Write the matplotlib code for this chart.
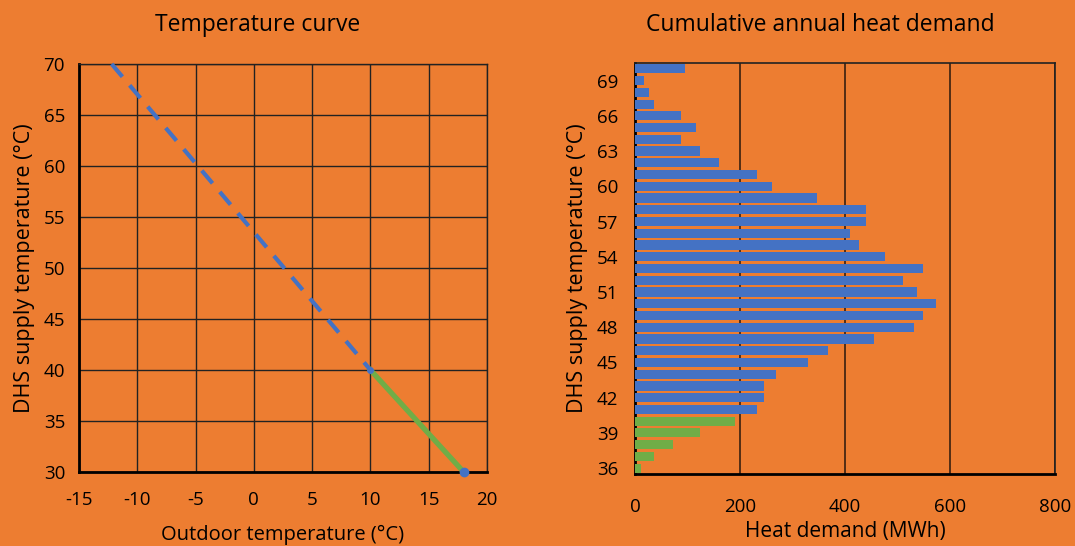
import matplotlib.pyplot as plt

plt.rcParams['font.family'] = ['Open Sans', 'DejaVu Sans']
plt.rcParams['axes.unicode_minus'] = False

ORANGE = '#ED7D31'
BLUE = '#4472C4'
GREEN = '#70AD47'

# temperature curve
curve_x_blue = [-12.2, 10]
curve_y_blue = [70, 40]
curve_x_green = [10, 18]
curve_y_green = [40, 30]

# cumulative heat demand per supply temperature
supply_temp = list(range(36, 71))
demand = [11, 36, 72, 123, 191,
          232, 246, 246, 269, 330, 368, 456, 531, 549, 574,
          538, 510, 549, 477, 427, 410, 440, 440, 346, 260,
          233, 160, 123, 88, 117, 88, 37, 27, 17, 95]
green_limit = 40

fig = plt.figure(figsize=(10.75, 5.46), dpi=100)
fig.patch.set_facecolor(ORANGE)
W, H = 1075, 546

def add_ax(x0, y0, x1, y1):
    a = fig.add_axes([x0 / W, 1 - y1 / H, (x1 - x0) / W, (y1 - y0) / H])
    a.set_facecolor(ORANGE)
    return a

# left chart
ax1 = add_ax(79, 64, 487, 472)
ax1.set_xlim(-15, 20)
ax1.set_ylim(30, 70)
ax1.set_xticks(range(-15, 21, 5))
ax1.set_yticks(range(30, 71, 5))
ax1.grid(True, color='#222222', linewidth=1.0)
ax1.set_axisbelow(True)
for s in ['top', 'right']:
    ax1.spines[s].set_linewidth(1.0)
    ax1.spines[s].set_color('#222222')
for s in ['left', 'bottom']:
    ax1.spines[s].set_linewidth(2.0)
ax1.tick_params(length=0, labelsize=13.5)
ax1.tick_params(axis='x', pad=14)
ax1.tick_params(axis='y', pad=10)
ax1.plot(curve_x_blue, curve_y_blue, color=BLUE, linewidth=3,
         dashes=(4, 2.7), clip_on=False, zorder=3)
ax1.plot(curve_x_green, curve_y_green, color=GREEN, linewidth=3.8,
         zorder=4, clip_on=False)
ax1.plot([10], [40], 'o', color=BLUE, markersize=4, zorder=5)
ax1.plot([18], [30], 'o', color=BLUE, markersize=6, zorder=5, clip_on=False)
ax1.set_xlabel('Outdoor temperature (°C)', fontsize=14.5, labelpad=11)
ax1.set_ylabel('DHS supply temperature (°C)', fontsize=15.5, labelpad=6)

# right chart
ax2 = add_ax(635, 63, 1055, 474)
colors = [GREEN if t <= green_limit else BLUE for t in supply_temp]
ax2.barh(supply_temp, demand, height=0.78, color=colors, zorder=3)
ax2.set_xlim(0, 800)
ax2.set_ylim(35.5, 70.5)
ax2.set_xticks(range(0, 801, 200))
ax2.set_yticks(range(36, 71, 3))
ax2.grid(True, axis='x', color='#3a2010', linewidth=1.2)
ax2.set_axisbelow(True)
for s in ['top', 'right']:
    ax2.spines[s].set_linewidth(1.2)
    ax2.spines[s].set_color('#222222')
for s in ['left', 'bottom']:
    ax2.spines[s].set_linewidth(2.0)
ax2.tick_params(length=0, labelsize=13.5)
ax2.tick_params(axis='x', pad=17)
ax2.tick_params(axis='y', pad=12)
ax2.set_xlabel('Heat demand (MWh)', fontsize=15, labelpad=4)
ax2.set_ylabel('DHS supply temperature (°C)', fontsize=15.5, labelpad=6)

fig.text(258 / W, 1 - 25 / H, 'Temperature curve', fontsize=16.5,
         ha='center', va='center')
fig.text(820 / W, 1 - 25 / H, 'Cumulative annual heat demand', fontsize=16.5,
         ha='center', va='center')

fig.savefig('out.png', dpi=100, facecolor=ORANGE)
